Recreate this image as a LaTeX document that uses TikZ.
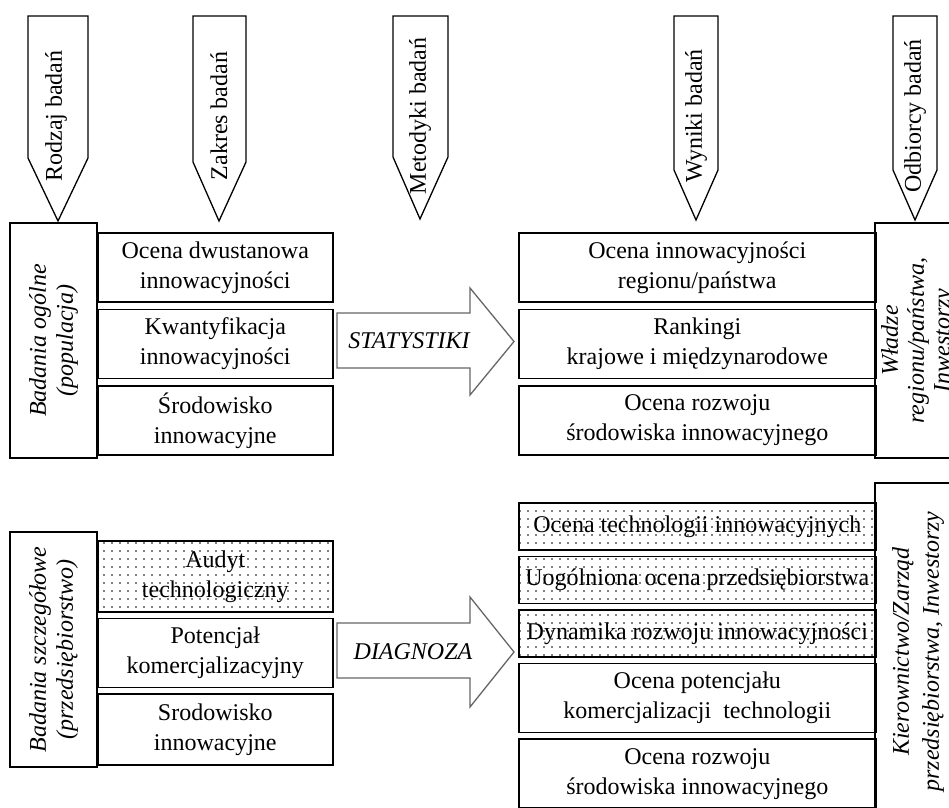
\documentclass[tikz,border=0pt]{standalone}
\usepackage{fontspec}
\setmainfont{Liberation Serif}
\usetikzlibrary{positioning,patterns.meta}

\tikzset{
  pencil/.style={draw, line width=1.3pt},
  bigarrow/.style={draw=black!60, line width=1.3pt},
  box/.style={draw, line width=1.6pt, align=center, inner sep=0pt, minimum width=235pt, minimum height=69pt},
  rbox/.style={box, minimum width=357pt},
  tallbox/.style={draw, line width=1.6pt, rotate=90, align=center, inner sep=0pt, font=\fontsize{24}{27}\selectfont\itshape},
  dotfill/.style={pattern={Dots[distance=8pt,radius=0.85pt]}},
}

\begin{document}
\begin{tikzpicture}[x=1pt,y=-1pt,font=\fontsize{24}{30}\selectfont]
\path[use as bounding box] (0,0) rectangle (949,807);
\clip (0,0) rectangle (949,807);

% pencils on top
\draw[pencil] (28,16) -- (88,16) -- (88,158) -- (58,221) -- (28,158) -- cycle;
\node[rotate=90] (rodzaj) at (56,116) {Rodzaj badań};
\draw[pencil] (193,16) -- (246,16) -- (246,162) -- (219,221) -- (193,162) -- cycle;
\node[rotate=90] (zakres) at (219,116) {Zakres badań};
\draw[pencil] (393,16) -- (448,16) -- (448,157) -- (420,219) -- (393,157) -- cycle;
\node[rotate=90] (metodyki) at (420,116) {Metodyki badań};
\draw[pencil] (674,16) -- (718,16) -- (718,170) -- (696,220) -- (674,170) -- cycle;
\node[rotate=90] (wyniki) at (696,116) {Wyniki badań};
\draw[pencil] (893,16) -- (937,16) -- (937,170) -- (915,220) -- (893,170) -- cycle;
\node[rotate=90] (odbiorcy) at (915,116) {Odbiorcy badań};

% upper row
\node[tallbox, minimum width=235pt, minimum height=87pt] (ogolne) at (53.5,340.5) {Badania ogólne\\(populacja)};
\node[box, anchor=north west] (dwust) at (97,232) {Ocena dwustanowa\\innowacyjności};
\node[box, below=6pt of dwust] (kwant) {Kwantyfikacja\\innowacyjności};
\node[box, below=6pt of kwant] (srod) {Środowisko\\innowacyjne};

\draw[bigarrow] (337,313) -- (470,313) -- (470,288) -- (514,341.5) -- (470,395) -- (470,368) -- (337,368) -- cycle;
\node[font=\fontsize{24}{30}\selectfont\itshape] (stat) at (409,341) {STATYSTIKI};

\node[rbox, anchor=north west] (ocinn) at (518,232) {Ocena innowacyjności\\regionu/państwa};
\node[rbox, below=6pt of ocinn] (rank) {Rankingi\\krajowe i międzynarodowe};
\node[rbox, below=6pt of rank] (rozw) {Ocena rozwoju\\środowiska innowacyjnego};
\node[tallbox, minimum width=235pt, minimum height=86pt, font=\fontsize{24}{26}\selectfont\itshape] (wladze) at (918,340.5) {Władze\\regionu/państwa,\\Inwestorzy};

% lower row
\node[tallbox, minimum width=235pt, minimum height=87pt] (szczeg) at (53.5,649.5) {Badania szczegółowe\\(przedsiębiorstwo)};
\node[box, dotfill, anchor=north west, minimum height=71pt] (audyt) at (97,540) {Audyt\\technologiczny};
\node[box, below=5pt of audyt] (potenc) {Potencjał\\komercjalizacyjny};
\node[box, below=5pt of potenc, minimum height=71pt] (srod2) {Srodowisko\\innowacyjne};

\draw[bigarrow] (337,623) -- (470,623) -- (470,597) -- (514,652) -- (470,707) -- (470,678) -- (337,678) -- cycle;
\node[font=\fontsize{24}{30}\selectfont\itshape] (diag) at (413,652) {DIAGNOZA};

\node[rbox, dotfill, anchor=north west, minimum height=47pt] (octech) at (518,502) {Ocena technologii innowacyjnych};
\node[rbox, dotfill, below=5pt of octech, minimum height=47pt] (uogol) {Uogólniona ocena przedsiębiorstwa};
\node[rbox, dotfill, below=5pt of uogol, minimum height=47pt] (dynam) {Dynamika rozwoju innowacyjności};
\node[rbox, below=5pt of dynam] (ocpot) {Ocena potencjału\\komercjalizacji\ \ technologii};
\node[rbox, below=5pt of ocpot] (rozw2) {Ocena rozwoju\\środowiska innowacyjnego};
\node[tallbox, minimum width=337pt, minimum height=86pt, font=\fontsize{24}{30}\selectfont\itshape] (kier) at (918,651.5) {Kierownictwo/Zarząd\\przedsiębiorstwa, Inwestorzy};
\end{tikzpicture}
\end{document}
